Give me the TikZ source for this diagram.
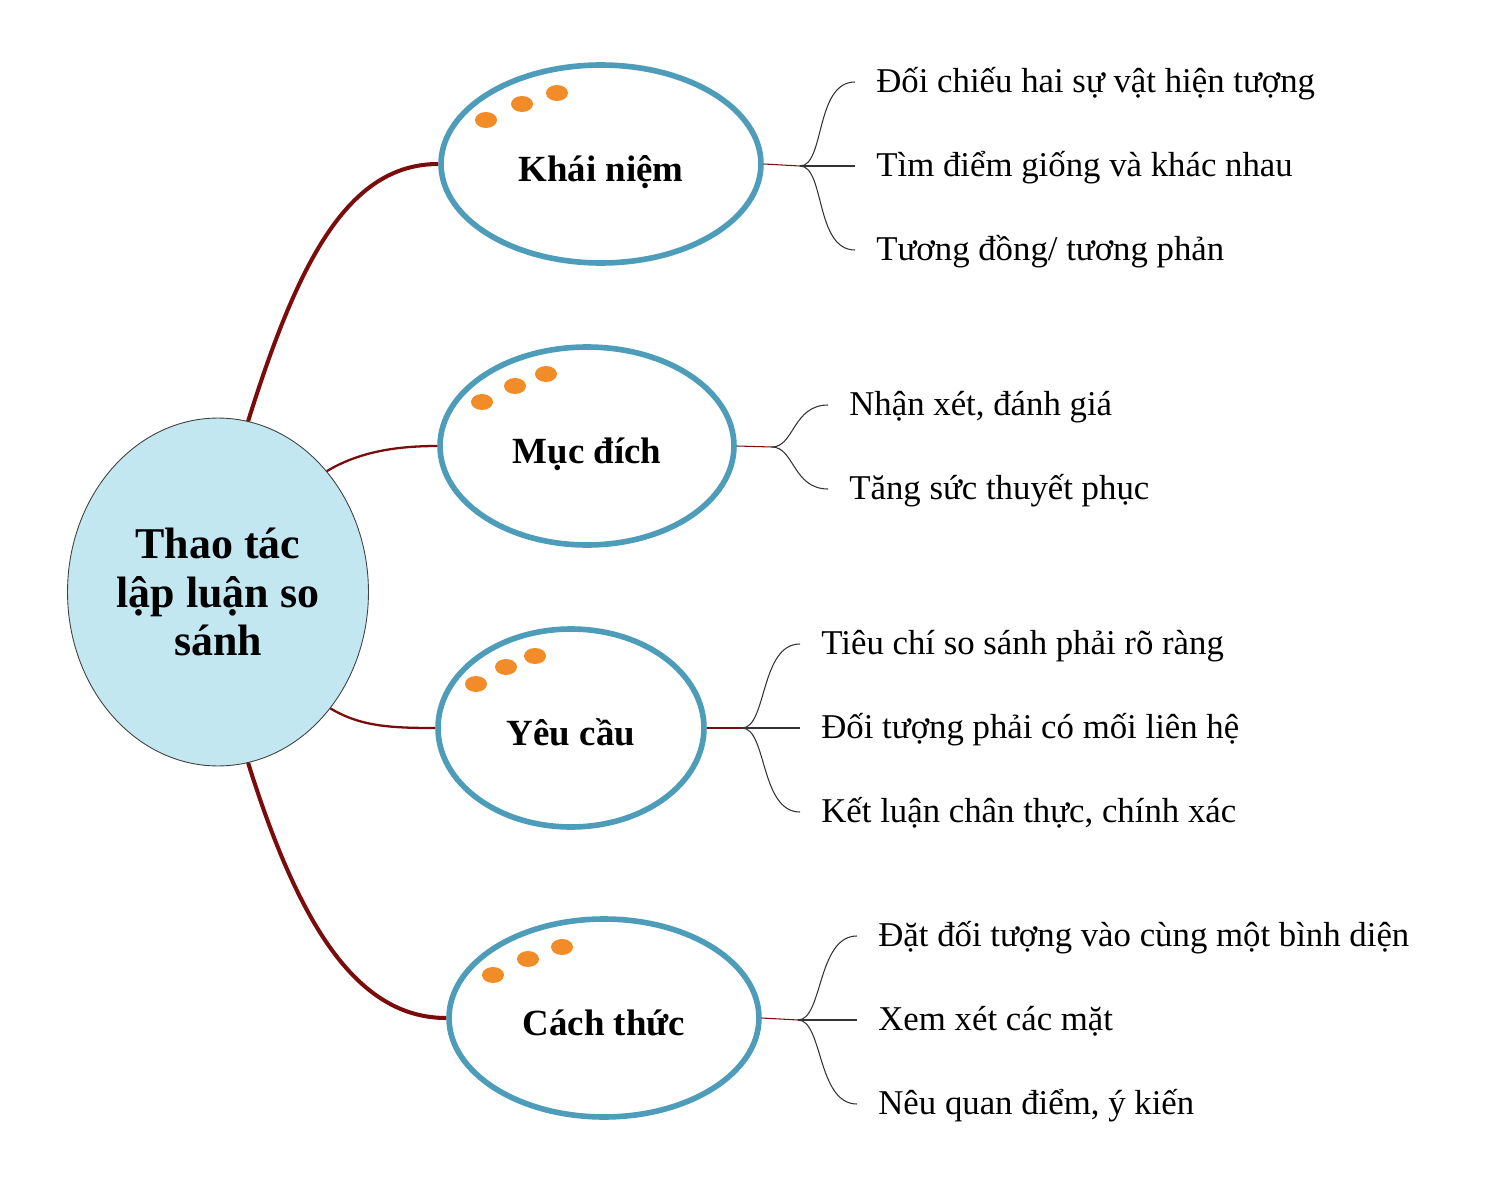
\documentclass[tikz,border=0pt]{standalone}
\usepackage{fontspec}
\setmainfont{Liberation Serif}
\usetikzlibrary{shapes.geometric}
\definecolor{hubfill}{RGB}{194,231,240}
\definecolor{ringblue}{RGB}{76,156,186}
\definecolor{dotorange}{RGB}{242,140,40}
\definecolor{stemred}{RGB}{122,12,12}
\begin{document}
\begin{tikzpicture}[x=0.02cm, y=-0.02cm,
    hub/.style={draw=black!75, fill=hubfill, ellipse, line width=0.5pt, inner sep=0pt,
      minimum width=6.02cm, minimum height=6.96cm, align=center,
      font=\fontsize{25}{27.4}\selectfont\bfseries},
    ring/.style={draw=ringblue, ellipse, line width=3.2pt, inner sep=0pt,
      minimum height=3.96cm, text height=22pt, text depth=2pt,
      font=\fontsize{21}{24}\selectfont\bfseries},
    leaf/.style={anchor=west, inner xsep=0.42cm, text height=2.85ex, text depth=0.35ex,
      font=\fontsize{19.8}{22}\selectfont},
    stem/.style={stemred, line width=1.3pt},
    bigstem/.style={stemred, line width=2.3pt},
    twig/.style={black!80, line width=0.6pt},
    dot/.style={fill=dotorange}]
    \useasboundingbox (0,0) rectangle (1489,1200);

    % centre
    \node[hub] (r) at (218,592) {Thao tác\\lập luận so\\sánh};

    % four branches
    \node[ring, minimum width=6.4cm] (k) at (601,164) {Khái niệm};
    \node[ring, minimum width=5.88cm] (m) at (587,446) {Mục đích};
    \node[ring, minimum width=5.32cm] (y) at (571,728) {Yêu cầu};
    \node[ring, minimum width=6.2cm] (c) at (604,1018) {Cách thức};

    \fill[dot] (486,120) ellipse (0.22cm and 0.16cm); \fill[dot] (522,104) ellipse (0.22cm and 0.16cm); \fill[dot] (557,93) ellipse (0.22cm and 0.16cm);
    \fill[dot] (482,402) ellipse (0.22cm and 0.16cm); \fill[dot] (515,386) ellipse (0.22cm and 0.16cm); \fill[dot] (546,374) ellipse (0.22cm and 0.16cm);
    \fill[dot] (476,684) ellipse (0.22cm and 0.16cm); \fill[dot] (506,667) ellipse (0.22cm and 0.16cm); \fill[dot] (535,656) ellipse (0.22cm and 0.16cm);
    \fill[dot] (493,975) ellipse (0.22cm and 0.16cm); \fill[dot] (528,959) ellipse (0.22cm and 0.16cm); \fill[dot] (562,947) ellipse (0.22cm and 0.16cm);

    \draw[bigstem] (r.80) .. controls +(50,-160) and +(-90,0) .. (k.west);
    \draw[stem] (r.48) .. controls +(30,-18) and +(-45,0) .. (m.west);
    \draw[stem] (r.-46) .. controls +(30,18) and +(-45,0) .. (y.west);
    \draw[bigstem] (r.-80) .. controls +(50,160) and +(-90,0) .. (c.west);

    % leaves
    \node[leaf] (k1) at (855,82) {Đối chiếu hai sự vật hiện tượng};
    \node[leaf] (k2) at (855,166) {Tìm điểm giống và khác nhau};
    \node[leaf] (k3) at (855,250) {Tương đồng/ tương phản};

    \node[leaf] (m1) at (828,405) {Nhận xét, đánh giá};
    \node[leaf] (m2) at (828,489) {Tăng sức thuyết phục};

    \node[leaf] (y1) at (800,644) {Tiêu chí so sánh phải rõ ràng};
    \node[leaf] (y2) at (800,728) {Đối tượng phải có mối liên hệ};
    \node[leaf] (y3) at (800,812) {Kết luận chân thực, chính xác};

    \node[leaf] (c1) at (857,936) {Đặt đối tượng vào cùng một bình diện};
    \node[leaf] (c2) at (857,1020) {Xem xét các mặt};
    \node[leaf] (c3) at (857,1104) {Nêu quan điểm, ý kiến};

    \coordinate (kj) at (800,166);
    \coordinate (mj) at (772,447);
    \coordinate (yj) at (742,728);
    \coordinate (cj) at (798,1020);

    \draw[stemred, line width=0.6pt] (k.east) -- (kj); \draw[stemred, line width=0.6pt] (m.east) -- (mj);
    \draw[stemred, line width=0.6pt] (y.east) -- (yj); \draw[stemred, line width=0.6pt] (c.east) -- (cj);

    \draw[twig] (kj) .. controls +(25,0) and +(-40,0) .. (k1.west); \draw[twig] (kj) -- (k2.west); \draw[twig] (kj) .. controls +(25,0) and +(-40,0) .. (k3.west);
    \draw[twig] (mj) .. controls +(22,0) and +(-35,0) .. (m1.west); \draw[twig] (mj) .. controls +(22,0) and +(-35,0) .. (m2.west);
    \draw[twig] (yj) .. controls +(25,0) and +(-40,0) .. (y1.west); \draw[twig] (yj) -- (y2.west); \draw[twig] (yj) .. controls +(25,0) and +(-40,0) .. (y3.west);
    \draw[twig] (cj) .. controls +(25,0) and +(-40,0) .. (c1.west); \draw[twig] (cj) -- (c2.west); \draw[twig] (cj) .. controls +(25,0) and +(-40,0) .. (c3.west);
\end{tikzpicture}
\end{document}
